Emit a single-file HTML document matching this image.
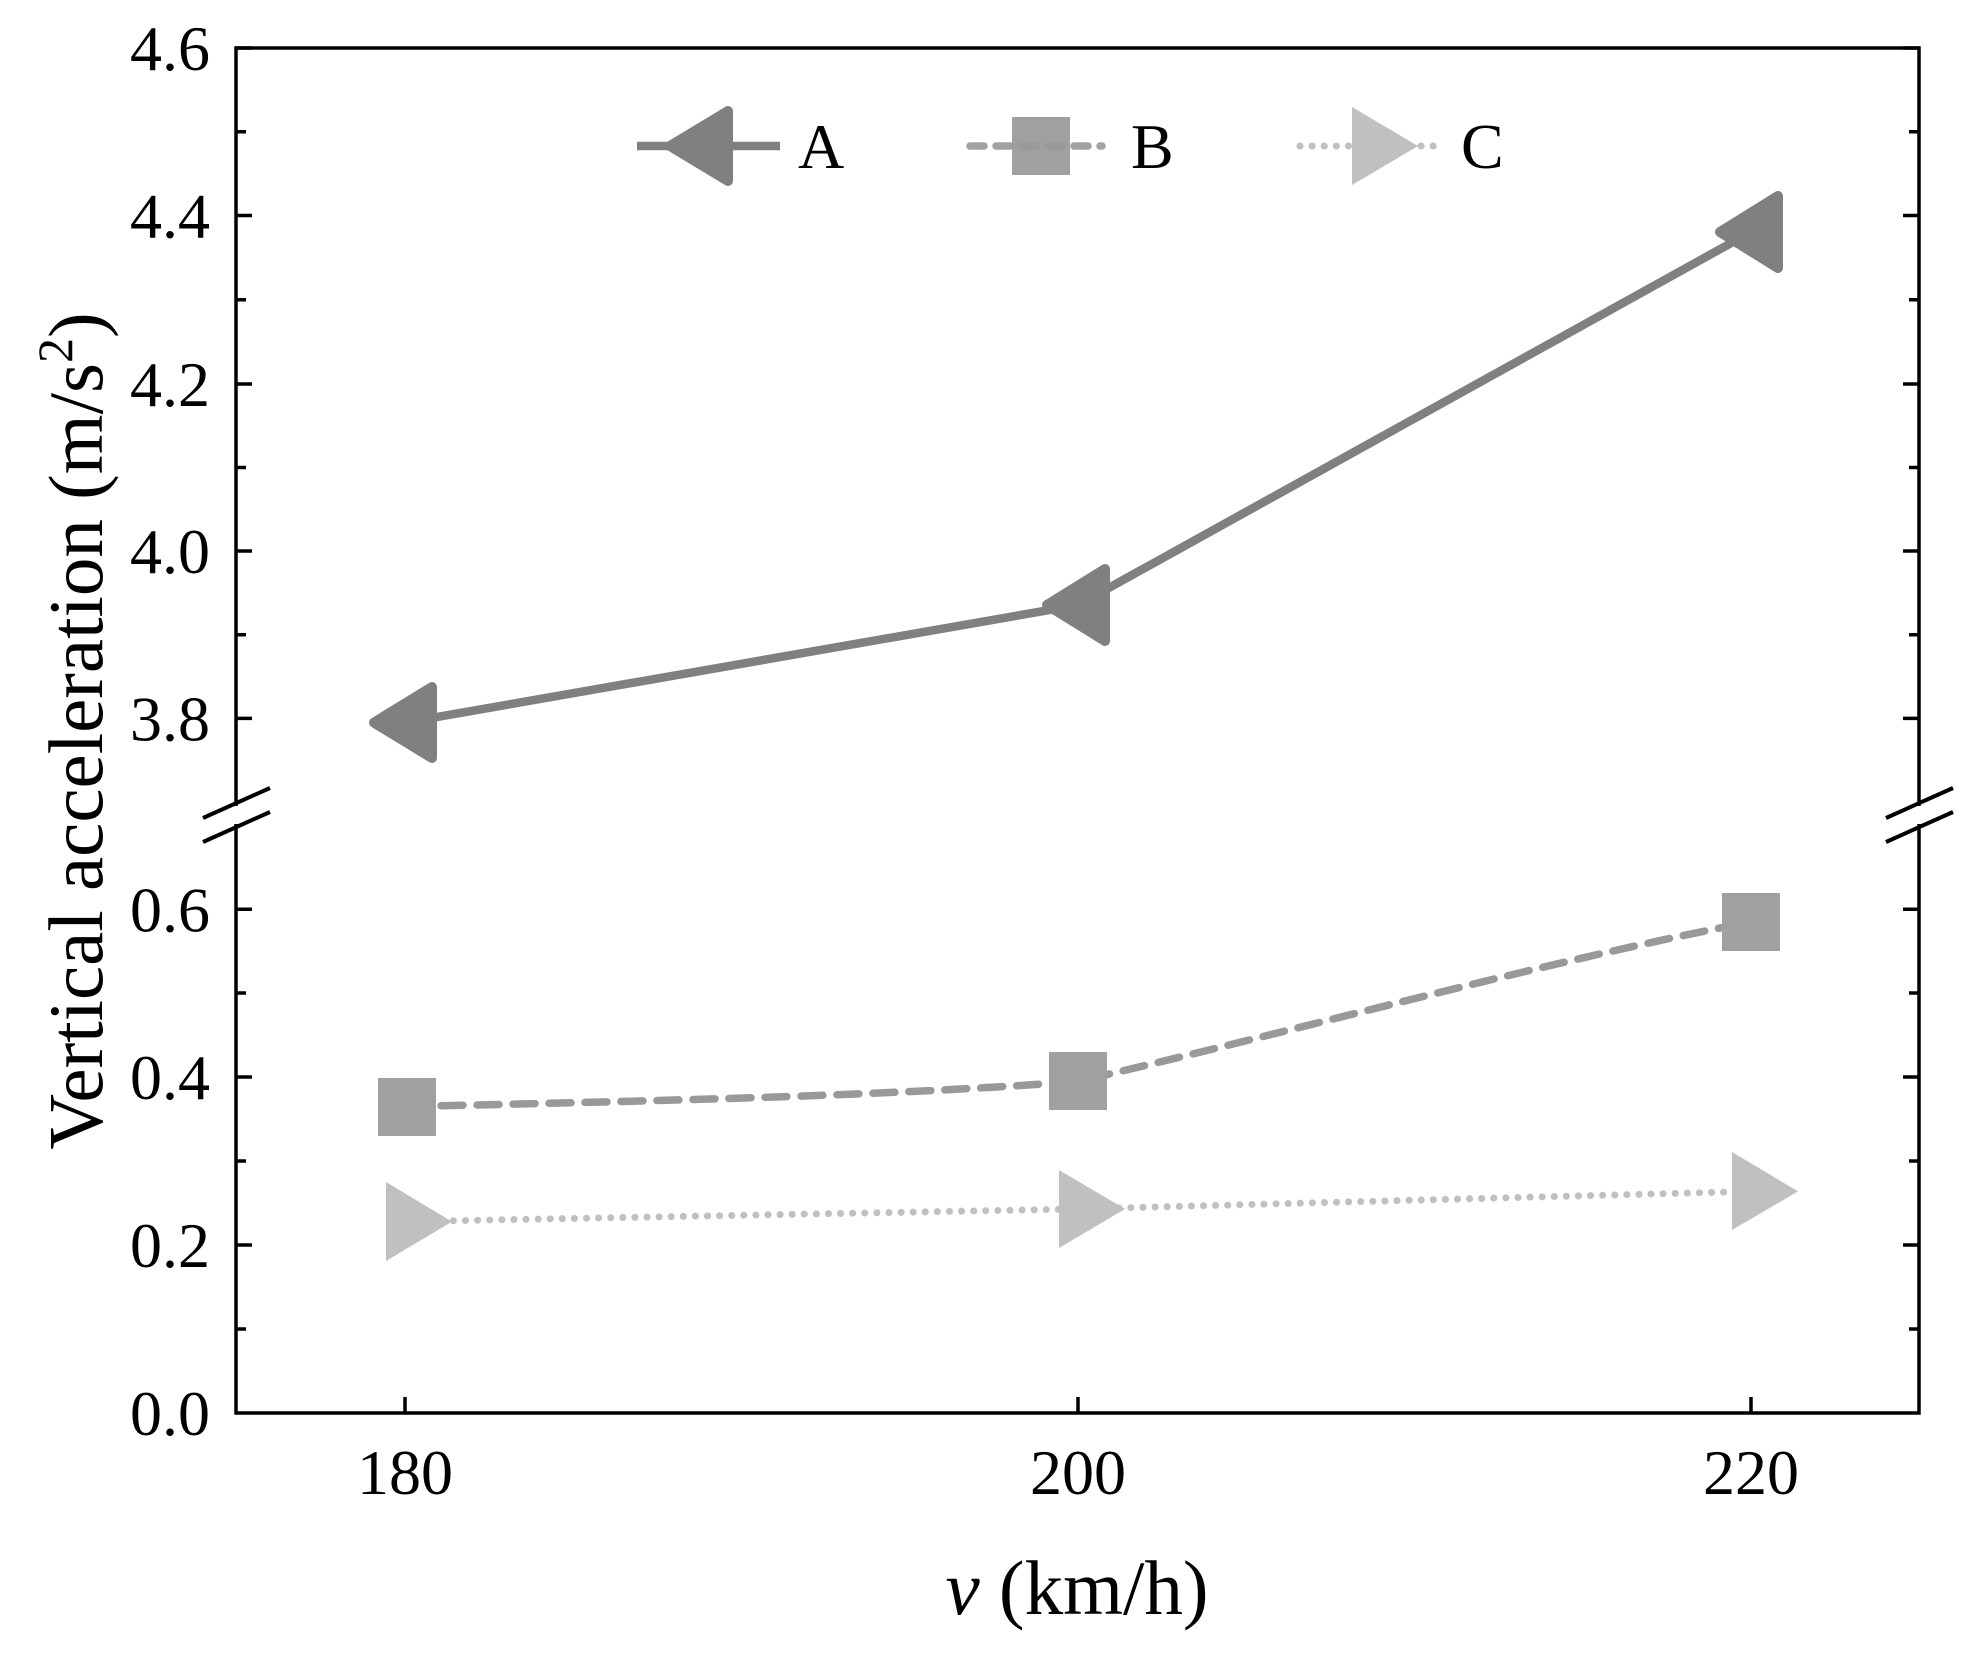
<!DOCTYPE html>
<html><head><meta charset="utf-8"><style>
html,body{margin:0;padding:0;background:#fff}
svg{display:block}
text{font-family:"Liberation Serif",serif;fill:#000}
</style></head><body>
<svg width="1986" height="1659" viewBox="0 0 1986 1659" xmlns="http://www.w3.org/2000/svg">
<rect width="1986" height="1659" fill="#fff"/>
<rect x="236" y="48" width="1683" height="1365" fill="none" stroke="#000" stroke-width="3.5"/>
<g stroke="#000" stroke-width="3.5">
<path d="M236 48h16M236 215.5h16M236 384h16M236 551h16M236 718.4h16M236 909.3h16M236 1077h16M236 1245h16M1919 48h-16M1919 215.5h-16M1919 384h-16M1919 551h-16M1919 718.4h-16M1919 909.3h-16M1919 1077h-16M1919 1245h-16"/>
<path d="M236 131.8h10M236 299.8h10M236 467.5h10M236 634.7h10M236 993h10M236 1161h10M236 1329h10M1919 131.8h-10M1919 299.8h-10M1919 467.5h-10M1919 634.7h-10M1919 993h-10M1919 1161h-10M1919 1329h-10"/>
<path d="M405 1413v-16M1078 1413v-16M1751 1413v-16"/>
</g>
<g stroke="#fff" stroke-width="14">
<path d="M236 806v18M1919 806v18"/>
</g>
<g stroke="#000" stroke-width="4">
<path d="M203 818L270 788M203 842L270 812M1886 818L1953 788M1886 842L1953 812"/>
</g>
<g font-size="64" text-anchor="end">
<text x="210" y="70">4.6</text>
<text x="210" y="237.5">4.4</text>
<text x="210" y="406">4.2</text>
<text x="210" y="573">4.0</text>
<text x="210" y="740.4">3.8</text>
<text x="210" y="931.3">0.6</text>
<text x="210" y="1099">0.4</text>
<text x="210" y="1267">0.2</text>
<text x="210" y="1435">0.0</text>
</g>
<g font-size="64" text-anchor="middle">
<text x="405" y="1494">180</text>
<text x="1078" y="1494">200</text>
<text x="1751" y="1494">220</text>
</g>
<text x="1077" y="1614" font-size="77" text-anchor="middle"><tspan font-style="italic">v</tspan> (km/h)</text>
<text transform="translate(102,731) rotate(-90)" font-size="77" text-anchor="middle">Vertical acceleration (m/s<tspan font-size="50" dy="-30">2</tspan><tspan dy="30">)</tspan></text>
<path d="M405 1221.6L1078 1209L1751 1191.4" fill="none" stroke="#c0c0c0" stroke-width="7" stroke-dasharray="0.1 12" stroke-linecap="round"/>
<path d="M405 1106.6C700 1100 900 1095 1078 1081.4C1300 1030 1550 960 1751 922" fill="none" stroke="#999" stroke-width="7.5" stroke-dasharray="22 14" stroke-linecap="round"/>
<path d="M405 722.6L1078 605L1751 232" fill="none" stroke="#808080" stroke-width="8.5"/>
<g fill="#808080" stroke="#808080" stroke-width="10" stroke-linejoin="round">
<path d="M374 722.6L432 687L432 758Z"/>
<path d="M1047 605L1105 569L1105 641Z"/>
<path d="M1720 232L1778 196L1778 268Z"/>
<path d="M670 146L728 111L728 181Z"/>
</g>
<g fill="#a0a0a0">
<rect x="378" y="1078" width="58" height="58"/>
<rect x="1049" y="1052" width="58" height="58"/>
<rect x="1722" y="893" width="58" height="58"/>
<rect x="1012" y="117" width="58" height="58"/>
</g>
<g fill="#c0c0c0">
<path d="M386 1182L386 1261L452 1221.6Z"/>
<path d="M1059 1170L1059 1248L1125 1209Z"/>
<path d="M1732 1152L1732 1230L1798 1191.4Z"/>
<path d="M1352 107L1352 185L1418 146Z"/>
</g>
<path d="M637 146H780" stroke="#808080" stroke-width="8.5"/>
<path d="M970 146H1102" stroke="#999" stroke-width="7.5" stroke-dasharray="14 12" stroke-linecap="round" opacity="0.9"/>
<path d="M1300 146H1440" stroke="#c0c0c0" stroke-width="7" stroke-dasharray="0.1 12" stroke-linecap="round"/>
<g font-size="64">
<text x="798" y="168">A</text>
<text x="1131" y="168">B</text>
<text x="1461" y="168">C</text>
</g>
</svg>
</body></html>
